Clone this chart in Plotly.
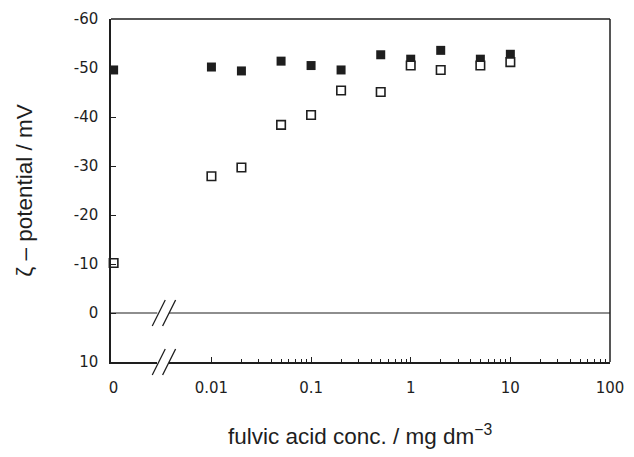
import math
import plotly.graph_objects as go

# Fulvic acid concentration (mg dm^-3); 0 is shown on the short linear stub left of the axis break
conc = [0, 0.01, 0.02, 0.05, 0.1, 0.2, 0.5, 1, 2, 5, 10]
# zeta potential (mV) for the two series
zeta_filled = [-49.6, -50.2, -49.4, -51.4, -50.5, -49.6, -52.7, -51.8, -53.6, -51.8, -52.8]
zeta_open = [-10.2, -27.9, -29.7, -38.4, -40.4, -45.4, -45.1, -50.5, -49.6, -50.5, -51.2]

x_tick_vals = [0.01, 0.1, 1, 10, 100]
x_tick_text = ["0.01", "0.1", "1", "10", "100"]
y_tick_vals = [-60, -50, -40, -30, -20, -10, 0, 10]
y_tick_text = ["-60", "-50", "-40", "-30", "-20", "-10", "0", "10"]
Y_RANGE = [10, -60]

INK = "#1e1e1e"
TICK_FONT = dict(family="DejaVu Sans", size=15, color=INK)
TITLE_FONT = dict(family="Liberation Sans, Arial", size=22.5, color=INK)

# axis break: linear stub [0, D1], log axis [D2, 1] (paper fractions)
D1, D2 = 0.0927, 0.1164


def split(xs, ys):
    zero = [(x, y) for x, y in zip(xs, ys) if x == 0]
    pos = [(x, y) for x, y in zip(xs, ys) if x > 0]
    return ([p[0] for p in zero], [p[1] for p in zero],
            [p[0] for p in pos], [p[1] for p in pos])


def y_to_paper(v):
    return (v - Y_RANGE[0]) / (Y_RANGE[1] - Y_RANGE[0])


fig = go.Figure()

filled_style = dict(symbol="square", size=9, color=INK, line=dict(width=0))
open_style = dict(symbol="square", size=8.5, color="white", line=dict(width=1.6, color=INK))

for ys, style in ((zeta_filled, filled_style), (zeta_open, open_style)):
    zx, zy, px, py = split(conc, ys)
    fig.add_trace(go.Scatter(x=zx, y=zy, mode="markers", marker=style,
                             xaxis="x", yaxis="y", cliponaxis=False, showlegend=False))
    fig.add_trace(go.Scatter(x=px, y=py, mode="markers", marker=style,
                             xaxis="x2", yaxis="y", cliponaxis=False, showlegend=False))

minor_vals = [m * 10 ** e for e in range(-2, 2) for m in range(2, 10)]

fig.update_layout(
    width=634, height=457, autosize=False,
    margin=dict(l=111, r=16, t=10, b=95),
    paper_bgcolor="white", plot_bgcolor="white",
    xaxis=dict(domain=[0, D1], range=[-0.06, 1], anchor="y",
               tickmode="array", tickvals=[0], ticktext=["0"],
               ticks="", showline=True, linecolor=INK, linewidth=1.5,
               showgrid=False, zeroline=False, tickfont=TICK_FONT,
               ticklabelstandoff=11),
    xaxis2=dict(type="log", domain=[D2, 1],
                range=[math.log10(0.01) - 0.425, math.log10(100)], anchor="y",
                tickmode="array", tickvals=x_tick_vals, ticktext=x_tick_text,
                ticks="inside", ticklen=5, tickwidth=1.2, tickcolor=INK,
                minor=dict(tickmode="array", tickvals=minor_vals, ticks="inside",
                           ticklen=3, tickwidth=1, tickcolor=INK),
                showline=True, linecolor=INK, linewidth=1.5,
                showgrid=False, zeroline=False, tickfont=TICK_FONT,
                ticklabelstandoff=11),
    yaxis=dict(range=Y_RANGE, anchor="x", domain=[0, 1],
               tickmode="array", tickvals=y_tick_vals, ticktext=y_tick_text,
               ticks="inside", ticklen=5, tickwidth=1.2, tickcolor=INK,
               showline=True, linecolor=INK, linewidth=1.5,
               showgrid=False, zeroline=False, tickfont=TICK_FONT,
               ticklabelstandoff=8),
)

shapes = []
# top and right frame
shapes.append(dict(type="line", xref="paper", yref="paper", x0=0, x1=1, y0=1, y1=1,
                   line=dict(color=INK, width=1.5)))
shapes.append(dict(type="line", xref="paper", yref="paper", x0=1, x1=1, y0=0, y1=1,
                   line=dict(color=INK, width=1.5)))
# zero line, broken at the axis break
for a, b in ((0, D1), (D2, 1)):
    shapes.append(dict(type="line", xref="paper", yref="y", x0=a, x1=b, y0=0, y1=0,
                       line=dict(color=INK, width=1.2)))
# break marks "//" on the zero line and on the bottom axis
for yv in (0, Y_RANGE[0]):
    for xa in (D1 + 0.003, D2):
        shapes.append(dict(type="line", xref="paper", yref="paper",
                           xsizemode="pixel", ysizemode="pixel",
                           xanchor=xa, yanchor=y_to_paper(yv),
                           x0=-6.5, x1=6.5, y0=-13, y1=13,
                           line=dict(color=INK, width=1.3)))
fig.update_layout(shapes=shapes)

fig.add_annotation(text="fulvic acid conc. / mg dm<sup>\u22123</sup>",
                   xref="paper", yref="paper", x=0.5, y=-0.213,
                   xanchor="center", yanchor="middle", showarrow=False,
                   font=TITLE_FONT)
fig.add_annotation(text="\u03b6 \u2013 potential / mV",
                   xref="paper", yref="paper", x=-0.174, y=0.5,
                   xanchor="center", yanchor="middle", textangle=-90,
                   showarrow=False, font=TITLE_FONT)

fig.write_html("out.html")
